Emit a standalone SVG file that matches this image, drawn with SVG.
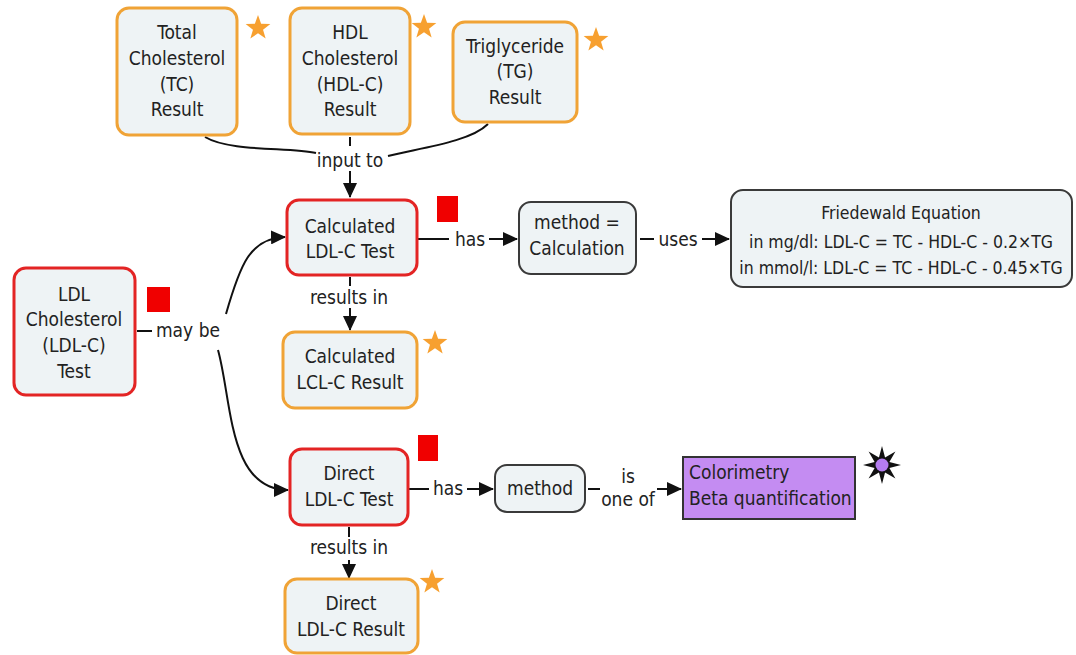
<svg xmlns="http://www.w3.org/2000/svg" width="1076" height="655" viewBox="0 0 1076 655">
<style>
.n{fill:#eef3f5;stroke-width:3}
.o{stroke:#f0a336}
.r{stroke:#e32424}
.d{stroke:#3a3a3a;stroke-width:2}
text{font-family:"DejaVu Sans Condensed","DejaVu Sans",sans-serif;font-size:19px;fill:#222;text-anchor:middle}
.s{font-size:17.5px}
.c{fill:none;stroke:#111;stroke-width:2}
.star{fill:#f7a030}
.sq{fill:#f00000}
</style>
<defs>
<marker id="a" markerUnits="userSpaceOnUse" markerWidth="16" markerHeight="14" refX="14" refY="7" orient="auto"><path d="M0,0 L15,7 L0,14 Z" fill="#111"/></marker>
<polygon id="st" points="0,-13 3.12,-4.29 12.36,-4.02 5.04,1.64 7.64,10.52 0,5.3 -7.64,10.52 -5.04,1.64 -12.36,-4.02 -3.12,-4.29"/>
</defs>
<g id="connectors">
<path class="c" d="M205,137 C230,152 290,147 316,153"/>
<path class="c" d="M350,137 L350,146"/>
<path class="c" d="M488,124 C470,142 420,148 388,156"/>
<path class="c" d="M350,171 L350,197" marker-end="url(#a)"/>
<path class="c" d="M417,239 L449,239"/>
<path class="c" d="M489,239 L517,239" marker-end="url(#a)"/>
<path class="c" d="M640,239 L654,239"/>
<path class="c" d="M702,239 L729,239" marker-end="url(#a)"/>
<path class="c" d="M137,331 L152,331"/>
<path class="c" d="M226,314 C240,265 250,238 285,237" marker-end="url(#a)"/>
<path class="c" d="M218,350 C232,400 228,490 288,490" marker-end="url(#a)"/>
<path class="c" d="M350,277 L350,286"/>
<path class="c" d="M350,308 L350,330" marker-end="url(#a)"/>
<path class="c" d="M409,489 L429,489"/>
<path class="c" d="M467,489 L493,489" marker-end="url(#a)"/>
<path class="c" d="M588,489 L600,489"/>
<path class="c" d="M657,489 L681,489" marker-end="url(#a)"/>
<path class="c" d="M349,527 L349,537"/>
<path class="c" d="M349,560 L349,578" marker-end="url(#a)"/>
</g>
<g id="labels">
<text x="350" y="167">input to</text>
<text x="470" y="246">has</text>
<text x="678" y="246">uses</text>
<text x="188" y="337">may be</text>
<text x="349" y="304">results in</text>
<text x="448" y="495">has</text>
<text x="628" y="483">is</text>
<text x="628" y="506">one of</text>
<text x="349" y="554">results in</text>
</g>
<g id="tc"><rect class="n o" x="117" y="8" width="120" height="127" rx="12"/><use href="#st" class="star" x="258" y="28"/>
<text x="177" y="39">Total</text><text x="177" y="65">Cholesterol</text><text x="177" y="91">(TC)</text><text x="177" y="116">Result</text></g>
<g id="hdl"><rect class="n o" x="290" y="8" width="120" height="126" rx="12"/><use href="#st" class="star" x="424" y="27"/>
<text x="350" y="39">HDL</text><text x="350" y="65">Cholesterol</text><text x="350" y="91">(HDL-C)</text><text x="350" y="116">Result</text></g>
<g id="tg"><rect class="n o" x="453" y="22" width="124" height="100" rx="12"/><use href="#st" class="star" x="596" y="40"/>
<text x="515" y="53">Triglyceride</text><text x="515" y="78">(TG)</text><text x="515" y="104">Result</text></g>
<g id="calc"><rect class="n r" x="287" y="200" width="130" height="75" rx="12"/><rect class="sq" x="437" y="196" width="21" height="26"/>
<text x="350" y="233">Calculated</text><text x="350" y="258">LDL-C Test</text></g>
<g id="mcalc"><rect class="n d" x="519" y="202" width="117" height="72" rx="12"/>
<text x="577" y="229">method =</text><text x="577" y="255">Calculation</text></g>
<g id="fried"><rect class="n d" x="731" y="190" width="341" height="97" rx="12"/>
<text class="s" x="901" y="219">Friedewald Equation</text><text class="s" x="901" y="248">in mg/dl: LDL-C = TC - HDL-C - 0.2×TG</text><text class="s" x="901" y="274">in mmol/l: LDL-C = TC - HDL-C - 0.45×TG</text></g>
<g id="ldl"><rect class="n r" x="14" y="268" width="121" height="127" rx="12"/><rect class="sq" x="147" y="287" width="23" height="25"/>
<text x="74" y="301">LDL</text><text x="74" y="326">Cholesterol</text><text x="74" y="352">(LDL-C)</text><text x="74" y="378">Test</text></g>
<g id="calcres"><rect class="n o" x="283" y="332" width="134" height="76" rx="12"/><use href="#st" class="star" x="435" y="343"/>
<text x="350" y="363">Calculated</text><text x="350" y="389">LCL-C Result</text></g>
<g id="direct"><rect class="n r" x="290" y="449" width="118" height="76" rx="12"/><rect class="sq" x="418" y="435" width="20" height="26"/>
<text x="349" y="480">Direct</text><text x="349" y="506">LDL-C Test</text></g>
<g id="method"><rect class="n d" x="495" y="465" width="90" height="47" rx="12"/>
<text x="540" y="495">method</text></g>
<g id="colo"><rect x="683" y="457" width="172" height="62" fill="#c48cf2" stroke="#333" stroke-width="2"/>
<text x="689" y="479" style="text-anchor:start">Colorimetry</text><text x="689" y="505" style="text-anchor:start">Beta quantification</text>
<g transform="translate(882,465)"><polygon points="0,-19 3.06,-7.39 13.44,-13.44 7.39,-3.06 19,0 7.39,3.06 13.44,13.44 3.06,7.39 0,19 -3.06,7.39 -13.44,13.44 -7.39,3.06 -19,0 -7.39,-3.06 -13.44,-13.44 -3.06,-7.39" fill="#111"/><circle r="6.5" fill="#b47cf0"/></g></g>
<g id="directres"><rect class="n o" x="285" y="579" width="133" height="74" rx="12"/><use href="#st" class="star" x="432" y="582"/>
<text x="351" y="610">Direct</text><text x="351" y="636">LDL-C Result</text></g>
</svg>
